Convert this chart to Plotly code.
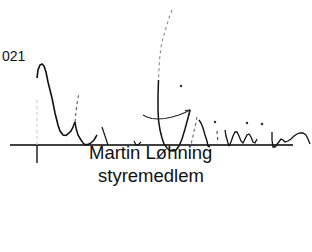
import plotly.graph_objects as go

# ---- data: signature strokes (pixel-space coordinates of the scanned page) ----
stroke_left_x = [37, 38, 40, 42, 44, 46, 48, 52, 55, 58, 60, 63, 66, 68, 71, 73, 75]
stroke_left_y = [78, 70, 65, 64, 66, 72, 82, 98, 113, 125, 131, 135, 135.5, 134, 131, 127, 122]
stroke_thin_up_x = [75, 76, 77, 78, 79]
stroke_thin_up_y = [122, 112, 104, 98, 93]
stroke_second_u_x = [75, 76, 78, 81, 83, 85, 88, 91, 94, 97]
stroke_second_u_y = [122, 128, 135, 140, 143, 144.5, 144.5, 143, 140, 135]
stroke_small_x = [102, 105, 108]
stroke_small_y = [127, 136, 145]
stroke_hook_x = [134, 136, 138, 141]
stroke_hook_y = [141, 145, 145, 142]
stroke_tall_top_x = [172, 169, 166, 163, 161, 159.5, 158.5]
stroke_tall_top_y = [10, 18, 28, 38, 47, 60, 80]
stroke_tall_x = [158.5, 158, 158, 158.5, 160, 162, 164, 167, 170, 173, 176, 179, 182, 185, 188, 190]
stroke_tall_y = [80, 95, 110, 120, 130, 138, 144, 148, 150.5, 151, 150, 146, 139, 129, 118, 110]
stroke_cross_x = [143, 147, 152, 158, 165, 172, 179, 185, 190]
stroke_cross_y = [115, 117, 118.5, 119, 118.5, 117, 115, 112.5, 110]
stroke_arrow_x = [185, 190, 189]
stroke_arrow_y = [110.5, 110, 115]
stroke_dashed_x = [197, 195, 193, 191]
stroke_dashed_y = [117, 127, 136, 145]
stroke_mid_x = [199, 201, 203, 205, 207, 208, 210]
stroke_mid_y = [120, 123, 128, 135, 141, 146, 147]
stroke_i_x = [217, 217.5, 218]
stroke_i_y = [131, 137, 142]
stroke_n_x = [225, 226, 228, 229, 231, 233, 235, 237, 239, 241, 243, 245, 247, 249, 251, 253, 255, 257]
stroke_n_y = [130, 136, 143, 146, 142, 136, 132, 132, 136, 141, 143, 139, 135, 134, 137, 142, 143, 139]
stroke_tail_x = [272, 272, 273, 275, 278, 281, 283, 285, 288, 291, 294, 297, 300, 303, 306, 308, 310]
stroke_tail_y = [132, 140, 147, 147, 143, 139, 140, 142, 141, 139, 136, 134, 133, 133, 135, 139, 144]
dots_x = [181, 215, 247, 262]
dots_y = [86, 122, 123, 124]

# signature rule line and tick
rule_x = [10, 293]
rule_y = [145, 145]
tick_x = [37, 37]
tick_y = [145, 163]
tick_faint_x = [37, 37]
tick_faint_y = [100, 145]

# texts
date_text = "021"
name_text = "Martin Løhning"
role_text = "styremedlem"

fig = go.Figure()

def add_line(x, y, width=1.5, color="#111111", dash="solid"):
    fig.add_trace(go.Scatter(x=x, y=y, mode="lines",
                             line=dict(color=color, width=width, dash=dash, simplify=False),
                             hoverinfo="skip", showlegend=False))

add_line(rule_x, rule_y, width=1.6, color="#000000")
add_line(tick_x, tick_y, width=1.3, color="#000000")
add_line(tick_faint_x, tick_faint_y, width=1, color="#c8c8c8", dash="dot")

add_line(stroke_left_x, stroke_left_y, width=1.6)
add_line(stroke_thin_up_x, stroke_thin_up_y, width=1.1, color="#555555", dash="dot")
add_line(stroke_second_u_x, stroke_second_u_y, width=1.5)
add_line(stroke_small_x, stroke_small_y, width=1.2)
add_line(stroke_hook_x, stroke_hook_y, width=1.2)
add_line(stroke_tall_top_x, stroke_tall_top_y, width=1.1, color="#888888", dash="dot")
add_line(stroke_tall_x, stroke_tall_y, width=1.5)
add_line(stroke_cross_x, stroke_cross_y, width=1.2, color="#222222")
add_line(stroke_arrow_x, stroke_arrow_y, width=1.1, color="#222222")
add_line(stroke_dashed_x, stroke_dashed_y, width=1.1, color="#666666", dash="dot")
add_line(stroke_mid_x, stroke_mid_y, width=1.4)
add_line(stroke_i_x, stroke_i_y, width=1.1, color="#444444", dash="dot")
add_line(stroke_n_x, stroke_n_y, width=1.3)
add_line(stroke_tail_x, stroke_tail_y, width=1.3)

fig.add_trace(go.Scatter(x=dots_x, y=dots_y, mode="markers",
                         marker=dict(color="#333333", size=2.5),
                         hoverinfo="skip", showlegend=False))

font_family = "Liberation Sans, Arial, sans-serif"
fig.add_annotation(x=0, y=66, text=date_text, showarrow=False, xanchor="left", yanchor="bottom",
                   font=dict(family=font_family, size=14, color="#111111"))
fig.add_annotation(x=150, y=165, text=name_text, showarrow=False, xanchor="center", yanchor="bottom",
                   font=dict(family=font_family, size=18.5, color="#111111"))
fig.add_annotation(x=151, y=187.5, text=role_text, showarrow=False, xanchor="center", yanchor="bottom",
                   font=dict(family=font_family, size=18.5, color="#111111"))

fig.update_layout(
    width=312, height=252,
    margin=dict(l=0, r=0, t=0, b=0),
    paper_bgcolor="white", plot_bgcolor="white",
    xaxis=dict(range=[0, 312], visible=False, fixedrange=True),
    yaxis=dict(range=[252, 0], visible=False, fixedrange=True),
)

fig.write_html("out.html", config={"displayModeBar": False},
               post_script="document.body.style.margin='0';")
